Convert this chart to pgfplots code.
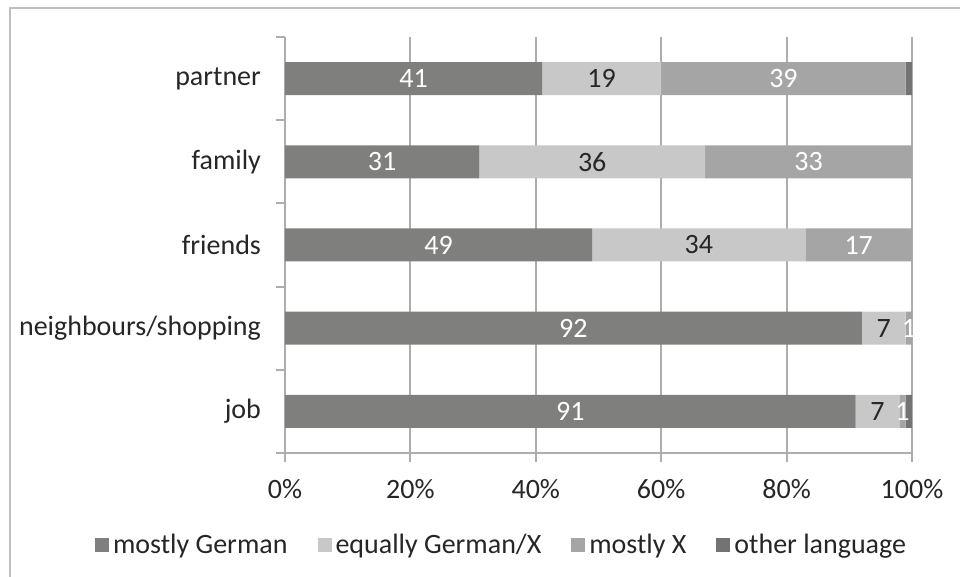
\documentclass[border=0pt]{standalone}
\usepackage{pgfplots}
\pgfplotsset{compat=1.18}
\usepackage{fontspec}
\setmainfont{Carlito}
\definecolor{cGer}{HTML}{7F807E}
\definecolor{cEq}{HTML}{C8C8C8}
\definecolor{cX}{HTML}{A5A5A5}
\definecolor{cOth}{HTML}{737373}
\definecolor{cAx}{HTML}{ADADAD}
\definecolor{cTxt}{HTML}{262626}
\definecolor{cFrame}{HTML}{BFBFBF}
\newcommand{\chartfont}{\fontsize{14}{16}\selectfont}
\pgfplotsset{
  center label/.style={
    nodes near coords,
    every node near coord/.append style={anchor=center, font=\chartfont, text=#1}
  }
}
\begin{document}
\begin{tikzpicture}
\useasboundingbox (-142.5pt,-62pt) rectangle (337.5pt,226.5pt);
\draw[cFrame, line width=0.8pt] (-137.5pt,-70pt) -- (-137.5pt,222.5pt) -- (345pt,222.5pt);
\begin{axis}[
  at={(0pt,0pt)}, anchor=south west,
  scale only axis, width=313.5pt, height=208pt,
  xbar stacked, bar width=16.5pt,
  xmin=0, xmax=100, ymin=-0.5, ymax=4.5,
  enlargelimits=false,
  axis x line*=bottom, axis y line*=left,
  axis line style={cAx, line width=1pt},
  xtick={0,20,...,100},
  xticklabel={\pgfmathprintnumber{\tick}\%},
  ytick={0,...,4},
  yticklabels={job,neighbours/shopping,friends,family,partner},
  minor ytick={-0.5,0.5,...,4.5},
  tick align=outside,
  major tick length=4.5pt, minor tick length=4.5pt,
  tick style={cAx, line width=1pt},
  major y tick style={draw=none},
  xmajorgrids,
  major grid style={cAx, line width=1pt},
  tick label style={font=\chartfont, text=cTxt},
  xticklabel style={yshift=-5pt},
  yticklabel style={xshift=-4pt},
  /pgf/number format/assume math mode=true,
  legend style={at={(0.347,-0.221)}, anchor=center, draw=none, fill=none,
    legend columns=4, font=\chartfont, text=cTxt,
    /tikz/every even column/.append style={column sep=13pt}},
  legend image code/.code={\fill[#1] (-1.5pt,-3.5pt) rectangle (5.5pt,3.5pt);},
]
\addplot[fill=cGer, draw=none, center label=white] coordinates {(91,0) (92,1) (49,2) (31,3) (41,4)};
\addplot[fill=cEq, draw=none, center label=cTxt] coordinates {(7,0) (7,1) (34,2) (36,3) (19,4)};
\addplot[fill=cX, draw=none, center label=white] coordinates {(1,0) (1,1) (17,2) (33,3) (39,4)};
\addplot[fill=cOth, draw=none] coordinates {(1,0) (0,1) (0,2) (0,3) (1,4)};
\legend{mostly German, equally German/X, mostly X, other language}
\end{axis}
\end{tikzpicture}
\end{document}
